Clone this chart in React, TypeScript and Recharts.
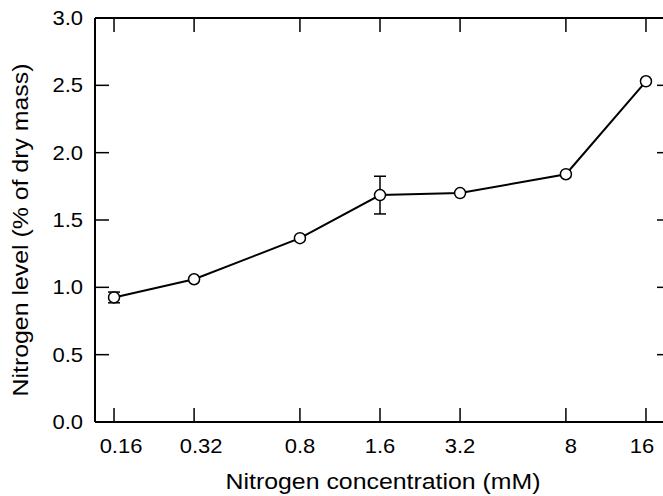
import { LineChart, Line, XAxis, YAxis, ErrorBar, Label } from 'recharts'

const concentrations = [0.16, 0.32, 0.8, 1.6, 3.2, 8, 16]
const nitrogenLevels = [0.925, 1.06, 1.365, 1.685, 1.7, 1.84, 2.53]
const nitrogenErrors = [0.04, 0, 0, 0.14, 0, 0, 0]
const xTicks = [0.16, 0.32, 0.8, 1.6, 3.2, 8, 16]
const yTicks = [0, 0.5, 1, 1.5, 2, 2.5, 3]

const data = concentrations.map((c, i) => ({
  conc: c,
  level: nitrogenLevels[i],
  err: nitrogenErrors[i],
}))

const FONT = '"Liberation Sans", Arial, Helvetica, sans-serif'
const STRETCH = 1.1
const TICK_LEN = 14
const X_GAP = 31
const Y_GAP = 12
const EDGE_GAP = 2 // recharts' default tickMargin on the top / right axes

// the original labels sit a little off their ticks
const xLabelNudge: Record<string, number> = { '0.16': 7, '0.32': 7, '8': 5, '16': -4 }

type TickProps = { x?: number; y?: number; payload?: { value: number } }

function XTick({ x = 0, y = 0, payload }: TickProps) {
  const label = String(payload?.value)
  const dx = xLabelNudge[label] ?? 0
  const axisY = y - X_GAP
  return (
    <g>
      <line x1={x} x2={x} y1={axisY} y2={axisY - TICK_LEN} stroke="#000" strokeWidth={1.5} />
      <text
        transform={`translate(${x + dx},${y}) scale(${STRETCH},1)`}
        textAnchor="middle"
        fontFamily={FONT}
        fontSize={20}
        fill="#000"
      >
        {label}
      </text>
    </g>
  )
}

function TopTick({ x = 0, y = 0 }: TickProps) {
  const axisY = y + EDGE_GAP
  return <line x1={x} x2={x} y1={axisY} y2={axisY + TICK_LEN} stroke="#000" strokeWidth={1.5} />
}

function YTick({ x = 0, y = 0, payload }: TickProps) {
  const axisX = x + Y_GAP
  return (
    <g>
      <line x1={axisX} x2={axisX + TICK_LEN} y1={y} y2={y} stroke="#000" strokeWidth={1.5} />
      <text
        transform={`translate(${x},${y + 7}) scale(${STRETCH},1)`}
        textAnchor="end"
        fontFamily={FONT}
        fontSize={20}
        fill="#000"
      >
        {(payload?.value ?? 0).toFixed(1)}
      </text>
    </g>
  )
}

function RightTick({ x = 0, y = 0 }: TickProps) {
  const axisX = x - EDGE_GAP
  return <line x1={axisX} x2={axisX - TICK_LEN} y1={y} y2={y} stroke="#000" strokeWidth={1.5} />
}

type Box = { x: number; y: number; width: number; height: number }

function XTitle({ viewBox }: { viewBox?: Box }) {
  if (!viewBox) return null
  const cx = viewBox.x + viewBox.width / 2
  return (
    <text
      transform={`translate(${cx},${viewBox.y + 66.5}) scale(1.13,1)`}
      textAnchor="middle"
      fontFamily={FONT}
      fontSize={22}
      fill="#000"
    >
      Nitrogen concentration (mM)
    </text>
  )
}

function YTitle({ viewBox }: { viewBox?: Box }) {
  if (!viewBox) return null
  const cy = viewBox.y + viewBox.height / 2 + 10
  return (
    <text
      transform={`translate(28,${cy}) rotate(-90) scale(1.13,1)`}
      textAnchor="middle"
      fontFamily={FONT}
      fontSize={22}
      fill="#000"
    >
      Nitrogen level (% of dry mass)
    </text>
  )
}

const axisLine = { stroke: '#000', strokeWidth: 2 }

export default function App() {
  return (
    <div style={{ position: 'absolute', left: 0, top: 0, width: 663, height: 496, overflow: 'hidden', background: '#fff' }}>
      <LineChart width={687} height={496} data={data} margin={{ top: 17, right: 15, bottom: 0, left: 35 }}>
        <XAxis
          dataKey="conc"
          type="number"
          scale="log"
          domain={[0.1357, 19.87]}
          allowDataOverflow
          ticks={xTicks}
          height={74}
          axisLine={axisLine}
          tickLine={false}
          tickSize={0}
          tickMargin={X_GAP}
          tick={<XTick />}
          interval={0}
        >
          <Label content={<XTitle />} />
        </XAxis>
        <XAxis
          xAxisId="top"
          dataKey="conc"
          orientation="top"
          type="number"
          scale="log"
          domain={[0.1357, 19.87]}
          allowDataOverflow
          ticks={xTicks}
          height={1}
          axisLine={axisLine}
          tickLine={false}
          tickSize={0}
          tick={<TopTick />}
          interval={0}
        />
        <YAxis
          domain={[0, 3]}
          ticks={yTicks}
          width={60}
          axisLine={axisLine}
          tickLine={false}
          tickSize={0}
          tickMargin={Y_GAP}
          tick={<YTick />}
          interval={0}
        >
          <Label content={<YTitle />} />
        </YAxis>
        <YAxis
          yAxisId="right"
          orientation="right"
          domain={[0, 3]}
          ticks={yTicks}
          width={1}
          axisLine={axisLine}
          tickLine={false}
          tickSize={0}
          tick={<RightTick />}
          interval={0}
        />
        {/* invisible series so the top and right frame axes get drawn */}
        <Line dataKey="level" xAxisId="top" yAxisId="right" stroke="none" dot={false} isAnimationActive={false} />
        <Line
          dataKey="level"
          type="linear"
          stroke="#000"
          strokeWidth={2}
          dot={{ r: 5.5, fill: '#fff', stroke: '#000', strokeWidth: 1.5 }}
          isAnimationActive={false}
        >
          <ErrorBar dataKey="err" direction="y" width={6} stroke="#000" strokeWidth={1.5} />
        </Line>
      </LineChart>
    </div>
  )
}
